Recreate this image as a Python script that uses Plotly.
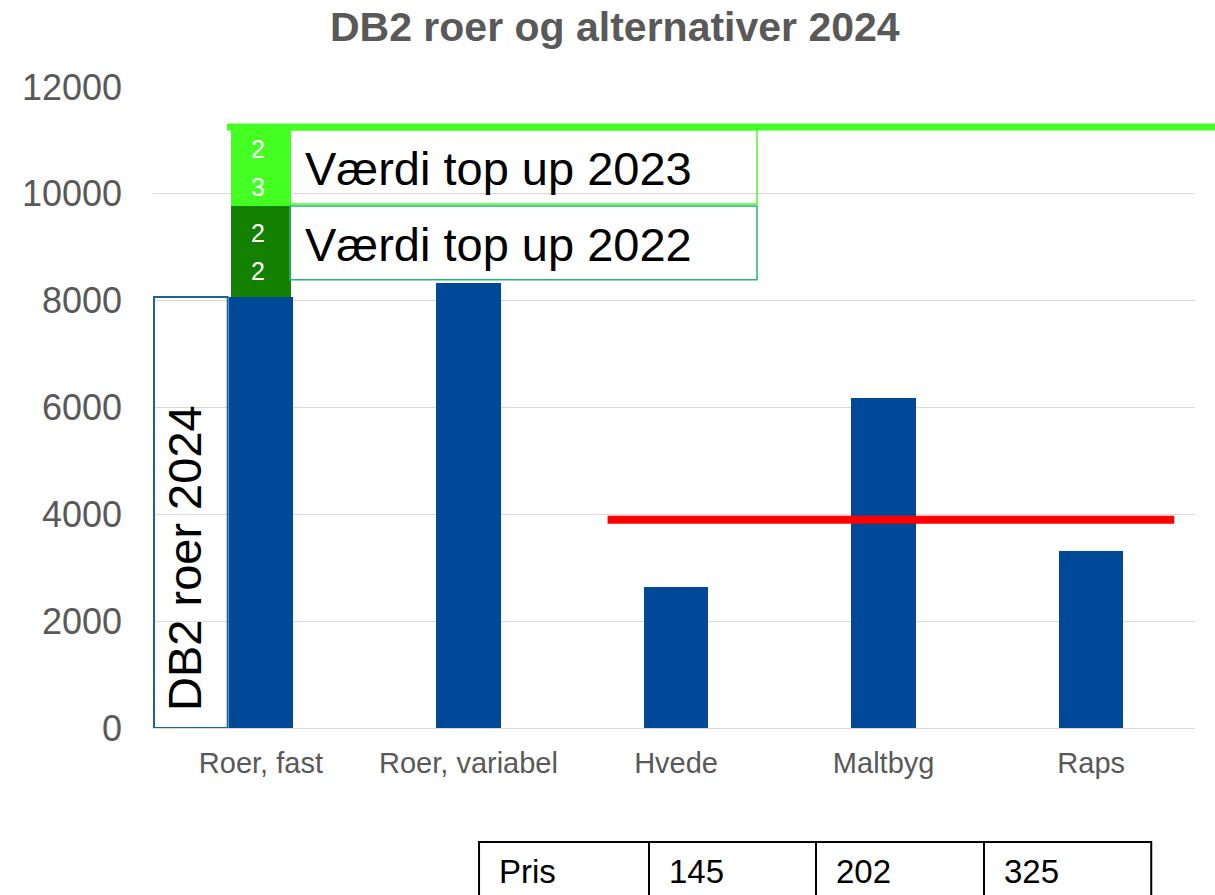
import plotly.graph_objects as go

# ---- data ----
categories = ["Roer, fast", "Roer, variabel", "Hvede", "Maltbyg", "Raps"]
db2_values = [8070, 8330, 2640, 6180, 3310]
topup_2022 = [1700, 0, 0, 0, 0]
topup_2023 = [1430, 0, 0, 0, 0]
topup_2022_digits = ["2", "2"]
topup_2023_digits = ["2", "3"]
alt_level = 3900          # red reference line
topup_level = 11250       # green reference line
y_ticks = [0, 2000, 4000, 6000, 8000, 10000, 12000]
title_text = "DB2 roer og alternativer 2024"
box_db2_text = "DB2 roer 2024"
box_2022_text = "Værdi top up 2022"
box_2023_text = "Værdi top up 2023"
table_cells = ["Pris", "145", "202", "325"]

BLUE = "#004898"
DKGREEN = "#138000"
LTGREEN = "#44FF22"
GRAY = "#595959"
FONT = "Liberation Sans, Arial, sans-serif"

fig = go.Figure()
fig.add_bar(x=categories, y=db2_values, marker_color=BLUE, width=0.31,
            marker_line_width=0, hoverinfo="skip")
fig.add_bar(x=categories, y=topup_2022, marker_color=DKGREEN, width=0.29,
            marker_line_width=0, hoverinfo="skip")
fig.add_bar(x=categories, y=topup_2023, marker_color=LTGREEN, width=0.29,
            marker_line_width=0, hoverinfo="skip")

top22 = db2_values[0] + topup_2022[0]
top23 = top22 + topup_2023[0]

shapes = []
# DB2 text box
shapes.append(dict(type="rect", xref="x", yref="y", x0=-0.515, x1=-0.16,
                   y0=0, y1=db2_values[0], line=dict(color="#1F6391", width=2),
                   fillcolor="rgba(0,0,0,0)", layer="above"))
# top up boxes
shapes.append(dict(type="rect", xref="x", yref="y", x0=0.14, x1=2.39,
                   y0=db2_values[1] + 60, y1=top22,
                   line=dict(color="#22B573", width=1.5), layer="above"))
shapes.append(dict(type="rect", xref="x", yref="y", x0=0.14, x1=2.39,
                   y0=top22 + 40, y1=top23,
                   line=dict(color=LTGREEN, width=1.5), layer="above"))
# reference lines
shapes.append(dict(type="line", xref="x", yref="y", x0=1.67, x1=4.40,
                   y0=alt_level, y1=alt_level, line=dict(color="#FF0000", width=8)))
shapes.append(dict(type="line", xref="paper", yref="y", x0=0.071, x1=1.03,
                   y0=topup_level, y1=topup_level, line=dict(color=LTGREEN, width=7)))
# price table
col_edges = [0.3129, 0.476, 0.6363, 0.7975, 0.958]
t_top, t_bot = -0.178, -0.32
shapes.append(dict(type="rect", xref="paper", yref="paper", x0=col_edges[0], x1=col_edges[-1],
                   y0=t_bot, y1=t_top, line=dict(color="black", width=2)))
for xe in col_edges[1:-1]:
    shapes.append(dict(type="line", xref="paper", yref="paper", x0=xe, x1=xe,
                       y0=t_bot, y1=t_top, line=dict(color="black", width=2)))

annotations = [
    dict(text=box_db2_text, xref="x", yref="y", x=-0.365, y=db2_values[0] / 2 - 850,
         textangle=-90, showarrow=False, font=dict(size=47, color="black", family=FONT)),
    dict(text=box_2023_text, xref="x", yref="y", x=0.205, y=(top22 + top23) / 2 - 10,
         xanchor="left", showarrow=False, font=dict(size=47, color="black", family=FONT)),
    dict(text=box_2022_text, xref="x", yref="y", x=0.205, y=(db2_values[1] + top22) / 2 + 5,
         xanchor="left", showarrow=False, font=dict(size=47, color="black", family=FONT)),
]
for digits, lo, hi in [(topup_2022_digits, db2_values[0], top22),
                       (topup_2023_digits, top22, top23)]:
    for d, shift in zip(digits, [19, -19]):
        annotations.append(dict(text=d, xref="x", yref="y", x=-0.015, y=(lo + hi) / 2,
                                yshift=shift, showarrow=False,
                                font=dict(size=25, color="white", family=FONT)))
for cell, xe in zip(table_cells, col_edges[:-1]):
    annotations.append(dict(text=cell, xref="paper", yref="paper", x=xe + 0.017, y=-0.2246,
                            xanchor="left", yanchor="middle", showarrow=False,
                            font=dict(size=33, color="black", family=FONT)))

fig.update_layout(
    barmode="stack",
    width=1215, height=895,
    margin=dict(l=153, r=20, t=87, b=167),
    paper_bgcolor="white", plot_bgcolor="white",
    showlegend=False,
    font=dict(family=FONT, color=GRAY),
    title=dict(text="<b>" + title_text + "</b>", x=0.506, xanchor="center",
               y=0.97, yanchor="middle", font=dict(size=41, color=GRAY, family=FONT)),
    shapes=shapes,
    annotations=annotations,
)
fig.update_xaxes(showgrid=False, showline=False, ticks="",
                 tickfont=dict(size=29, color=GRAY, family=FONT), ticklabelstandoff=15)
fig.update_yaxes(range=[0, 12000], tickvals=y_ticks, tickformat="d",
                 showgrid=True, gridcolor="#D9D9D9",
                 gridwidth=1, zeroline=True, zerolinecolor="#D9D9D9", zerolinewidth=1,
                 showline=False, ticks="", ticklabelstandoff=30,
                 tickfont=dict(size=36, color=GRAY, family=FONT))

fig.write_html("out.html", config={"displayModeBar": False},
               post_script="document.body.style.margin='0';document.body.style.overflow='hidden';")
